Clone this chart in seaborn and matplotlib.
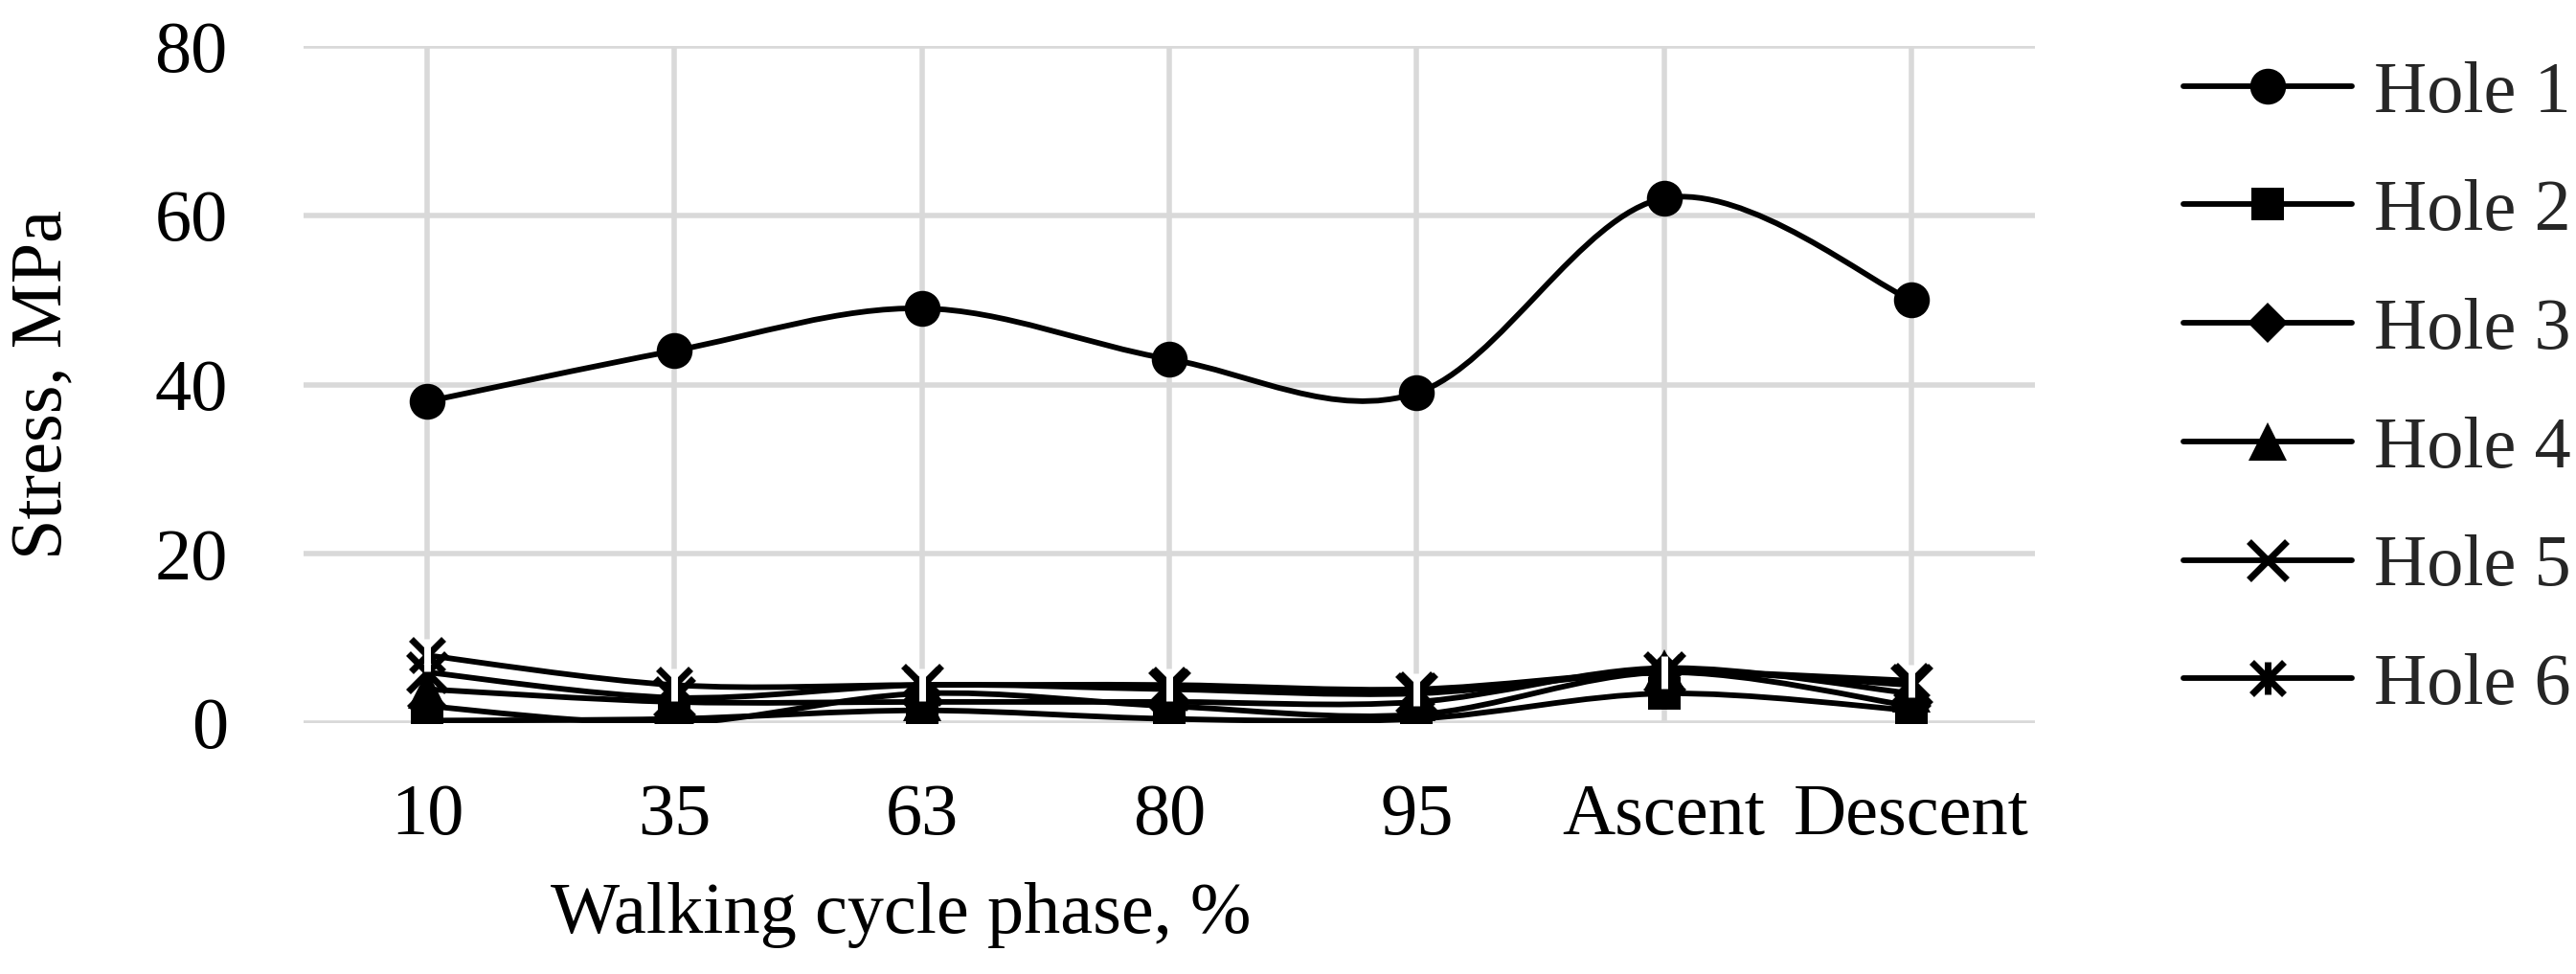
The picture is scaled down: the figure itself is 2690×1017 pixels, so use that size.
import numpy as np
import pandas as pd
import matplotlib
matplotlib.use("Agg")
import matplotlib.pyplot as plt
from matplotlib.path import Path
from matplotlib.patches import PathPatch
from matplotlib.lines import Line2D
from matplotlib.legend_handler import HandlerTuple
import seaborn as sns

# data
phases = ["10", "35", "63", "80", "95", "Ascent", "Descent"]
hole1 = [38, 44, 49, 43, 39, 62, 50]
hole2 = [0.3, 0.5, 1.5, 0.5, 0.5, 3.5, 1.5]
hole3 = [2, 0, 3.5, 2, 1, 6, 2]
hole4 = [4, 2.5, 2.5, 2.5, 2.5, 6.5, 3.5]
hole5 = [6, 3, 4.5, 4, 3.5, 6, 4.5]
hole6 = [8, 4.5, 4.5, 4.5, 4, 6, 5]
holes = ["Hole 1", "Hole 2", "Hole 3", "Hole 4", "Hole 5", "Hole 6"]

series = [hole1, hole2, hole3, hole4, hole5, hole6]
df = pd.DataFrame({
    "phase": np.tile(np.arange(len(phases)), len(holes)),
    "hole": np.repeat(holes, len(phases)),
    "stress": np.concatenate(series),
})

sns.set_theme(style="whitegrid")
plt.rcParams["font.family"] = ["Liberation Serif", "DejaVu Serif"]
FS = 55
LW = 4.2

fig = plt.figure(figsize=(26.9, 10.17), dpi=100)
ax = fig.add_axes([317 / 2690, 262 / 1017, 1808 / 2690, 707 / 1017])

# marker styles per hole (Excel-like)
mstyle = {
    "Hole 1": dict(marker="o", s=27),
    "Hole 2": dict(marker="s", s=25),
    "Hole 3": dict(marker="D", s=21),
    "Hole 4": dict(marker="^", s=29),
    "Hole 5": dict(marker="x", s=29),
    "Hole 6": dict(marker="x", s=25),
}


def smooth_path(xs, ys):
    # Excel-style smoothed line: cubic bezier with Catmull-Rom control points
    pts = np.column_stack([xs, ys]).astype(float)
    n = len(pts)
    verts = [pts[0]]
    codes = [Path.MOVETO]
    for i in range(n - 1):
        p0 = pts[i - 1] if i > 0 else pts[i]
        p1 = pts[i]
        p2 = pts[i + 1]
        p3 = pts[i + 2] if i + 2 < n else pts[i + 1]
        c1 = p1 + (p2 - p0) / 6.0
        c2 = p2 - (p3 - p1) / 6.0
        verts += [c1, c2, p2]
        codes += [Path.CURVE4] * 3
    return Path(verts, codes)


for h in holes:
    d = df[df.hole == h]
    ax.add_patch(PathPatch(smooth_path(d.phase, d.stress), fill=False,
                           edgecolor="black", lw=LW, zorder=3,
                           capstyle="round", joinstyle="round"))

handles = []
for h in holes:
    d = df[df.hole == h]
    st = mstyle[h]
    mew = 5 if st["marker"] == "x" else 0
    sns.lineplot(x=d.phase.values, y=d.stress.values, ax=ax, color="black",
                 linestyle="", marker=st["marker"], markersize=st["s"],
                 markeredgewidth=mew, markeredgecolor="black", zorder=4)
    if h == "Hole 6":
        sns.lineplot(x=d.phase.values, y=d.stress.values, ax=ax, color="black",
                     linestyle="", marker="|", markersize=st["s"],
                     markeredgewidth=5, zorder=4)
        hd = (Line2D([], [], color="black", lw=LW, marker="x", markersize=st["s"],
                     markeredgewidth=5),
              Line2D([], [], color="black", lw=0, marker="|", markersize=st["s"],
                     markeredgewidth=5))
    else:
        hd = Line2D([], [], color="black", lw=LW, marker=st["marker"],
                    markersize=st["s"], markeredgewidth=mew)
    handles.append(hd)

ax.set_xlim(-0.5, len(phases) - 0.5)
ax.set_ylim(0, 80)
ax.set_yticks([0, 20, 40, 60, 80])
ax.set_xticks(range(len(phases)))
ax.set_xticklabels(phases)
ax.grid(True, color="#d9d9d9", lw=4)
ax.set_axisbelow(True)
for sp in ax.spines.values():
    sp.set_visible(False)
ax.tick_params(axis="both", length=0, labelsize=FS, colors="black")
ax.tick_params(axis="y", pad=57)
ax.tick_params(axis="x", pad=45)

ax.set_xlabel("Walking cycle phase, %", fontsize=FS, color="black")
ax.set_ylabel("Stress, MPa", fontsize=FS, color="black")
ax.xaxis.set_label_coords(0.345, -0.235)
ax.yaxis.set_label_coords(-0.131, 0.5)

fig.legend(handles, holes, loc="upper left", bbox_to_anchor=(2280 / 2690, 0.938),
           frameon=False, fontsize=FS, handlelength=2.3, handletextpad=0.3,
           labelspacing=0.71, borderpad=0, borderaxespad=0,
           handler_map={tuple: HandlerTuple(ndivide=1, pad=0)})

fig.savefig("out.png", dpi=100, facecolor="white")
